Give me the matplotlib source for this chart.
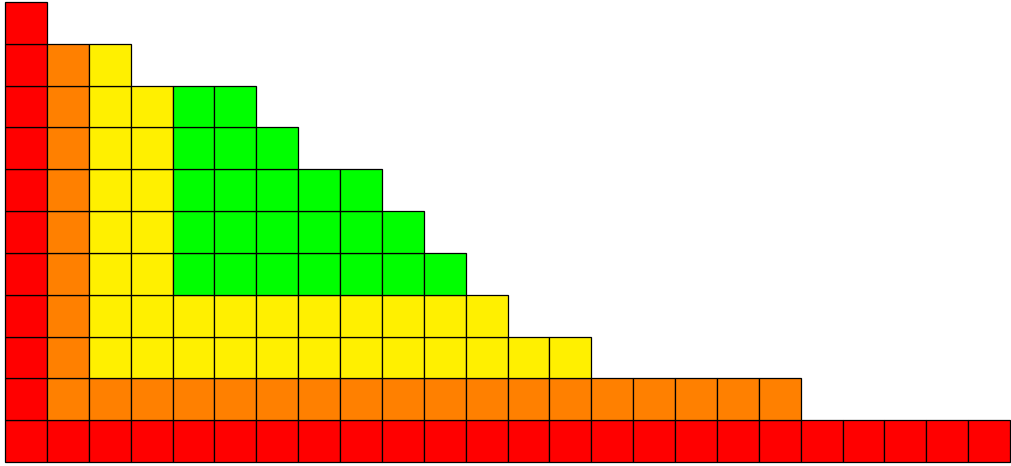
import matplotlib
matplotlib.use("Agg")
import matplotlib.pyplot as plt
from matplotlib.patches import Rectangle

# Each row from the bottom, one letter per cell (R=red, O=orange, Y=yellow, G=green)
rows = [
    "RRRRRRRRRRRRRRRRRRRRRRRR",
    "ROOOOOOOOOOOOOOOOOO",
    "ROYYYYYYYYYYYY",
    "ROYYYYYYYYYY",
    "ROYYGGGGGGG",
    "ROYYGGGGGG",
    "ROYYGGGGG",
    "ROYYGGG",
    "ROYYGG",
    "ROY",
    "R",
]
palette = {"R": "#FF0000", "O": "#FF8000", "Y": "#FFF000", "G": "#00FF00"}

ncols = max(len(r) for r in rows)
nrows = len(rows)

W, H = 1011, 466
fig = plt.figure(figsize=(W / 100, H / 100), dpi=100)
ax = fig.add_axes([5 / W, 4 / H, 1005 / W, 460 / H])
ax.set_xlim(0, ncols)
ax.set_ylim(0, nrows)
ax.axis("off")

for j, row in enumerate(rows):
    for i, c in enumerate(row):
        ax.add_patch(Rectangle((i, j), 1, 1, facecolor=palette[c],
                               edgecolor="black", linewidth=0.9, clip_on=False))

fig.savefig("out.png", dpi=100)
